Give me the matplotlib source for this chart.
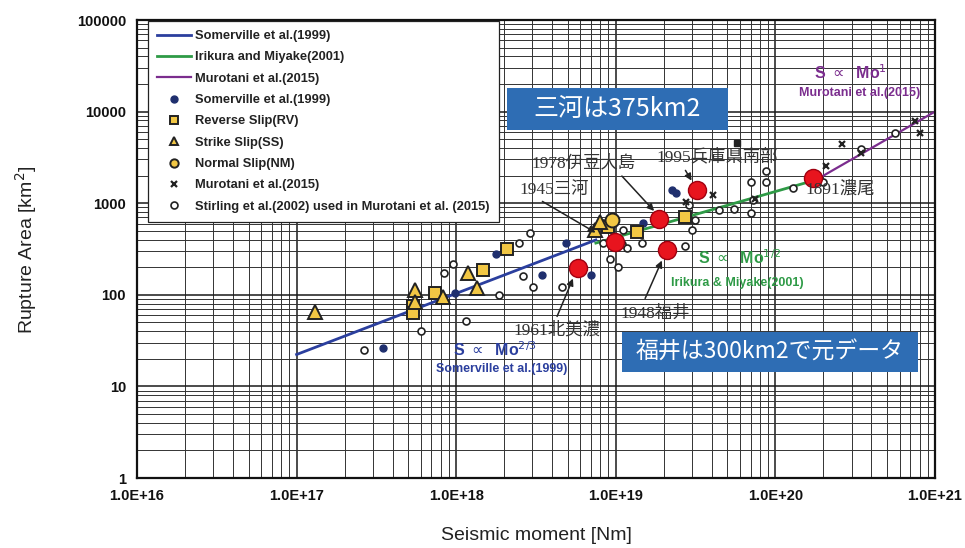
import matplotlib
matplotlib.use("Agg")
import matplotlib.pyplot as plt
from matplotlib.patches import Rectangle
from matplotlib.ticker import LogLocator, NullFormatter

plt.rcParams['font.family'] = ['Liberation Sans', 'Noto Sans CJK JP', 'DejaVu Sans']

# ---------------- data ----------------
somerville_line_x = [1.0e17, 7.5e18]
somerville_line_y = [22.3, 397]
irikura_line_x = [7.5e18, 1.8e20]
irikura_line_y = [367, 1800]
murotani_line_x = [1.8e20, 1.0e21]
murotani_line_y = [1800, 10000]

somerville_pts_x = [3.5e17, 9.8e17, 1.78e18, 3.45e18, 4.88e18, 7.0e18, 1.48e19, 2.38e19, 2.25e19]
somerville_pts_y = [26, 105, 279, 164, 368, 164, 608, 1292, 1394]

rv_x = [5.4e17, 5.4e17, 7.4e17, 1.47e18, 2.08e18, 9.0e18, 1.36e19, 2.72e19]
rv_y = [75, 63, 105, 187, 316, 550, 485, 707]

ss_x = [1.30e17, 5.5e17, 5.5e17, 8.3e17, 1.19e18, 1.35e18, 7.4e18, 7.96e18]
ss_y = [65, 113, 84, 95, 173, 119, 510, 623]

nm_x = [9.5e18]
nm_y = [656]

murotani_pts_x = [2.75e19, 4.06e19, 7.45e19, 2.08e20, 2.61e20, 3.44e20, 7.5e20, 8.05e20]
murotani_pts_y = [1031, 1230, 1111, 2547, 4430, 3534, 7890, 5840]

stirling_x = [2.64e17, 6.0e17, 1.15e18, 8.4e17, 9.6e17, 1.85e18, 2.47e18, 2.9e18, 2.62e18,
              3.03e18, 4.6e18, 8.3e18, 1.11e19, 8.3e18, 1.09e19, 1.18e19, 9.2e18, 1.03e19,
              1.45e19, 2.87e19, 3.13e19, 3.0e19, 2.72e19, 4.43e19, 5.5e19, 7.03e19, 7.03e19,
              8.73e19, 8.73e19, 7.24e19, 1.29e20, 1.99e20, 3.44e20, 5.61e20]
stirling_y = [25, 40, 52, 173, 217, 100, 368, 473, 160,
              122, 122, 608, 510, 368, 360, 324, 246, 201,
              368, 956, 656, 510, 341, 843, 861, 782, 1703,
              2248, 1703, 1084, 1466, 1703, 3906, 5840]

other_x = [5.74e19]
other_y = [4540]

quake_names = ['1961北美濃', '1945三河', '1978伊豆大島', '1948福井', '1995兵庫県南部', '1891濃尾']
quake_mo = [5.8e18, 9.9e18, 1.87e19, 2.1e19, 3.23e19, 1.72e20]
quake_area = [196, 380, 672, 305, 1394, 1884]

x_tick_vals = [1e16, 1e17, 1e18, 1e19, 1e20, 1e21]
x_tick_labels = ['1.0E+16', '1.0E+17', '1.0E+18', '1.0E+19', '1.0E+20', '1.0E+21']
y_tick_vals = [1, 10, 100, 1000, 10000, 100000]
y_tick_labels = ['1', '10', '100', '1000', '10000', '100000']

# ---------------- layout helpers ----------------
W, H = 965, 548
L, R, T, B = 137, 935, 20, 478

def af(px, py):
    return ((px - L) / (R - L), (B - py) / (B - T))

fig = plt.figure(figsize=(W / 100, H / 100), dpi=100)
fig.patch.set_facecolor('white')
ax = fig.add_axes([L / W, (H - B) / H, (R - L) / W, (B - T) / H])
ax.set_xscale('log')
ax.set_yscale('log')
ax.set_xlim(1e16, 1e21)
ax.set_ylim(1, 1e5)

ax.xaxis.set_minor_locator(LogLocator(base=10, subs=range(2, 10), numticks=50))
ax.yaxis.set_minor_locator(LogLocator(base=10, subs=range(2, 10), numticks=50))
ax.xaxis.set_minor_formatter(NullFormatter())
ax.yaxis.set_minor_formatter(NullFormatter())
ax.set_xticks(x_tick_vals)
ax.set_xticklabels(x_tick_labels)
ax.set_yticks(y_tick_vals)
ax.set_yticklabels(y_tick_labels)
ax.grid(True, which='major', color='#1a1a1a', lw=1.1, zorder=0)
ax.grid(True, which='minor', color='#333333', lw=0.7, zorder=0)
ax.set_axisbelow(True)
ax.tick_params(which='both', length=0, pad=8, labelsize=10.5, labelcolor='#111')
for lab in ax.get_xticklabels() + ax.get_yticklabels():
    lab.set_fontweight('bold')
for s in ax.spines.values():
    s.set_linewidth(1.6)
    s.set_color('#111')

# ---------------- lines ----------------
ax.plot(somerville_line_x, somerville_line_y, color='#2b3f9e', lw=2.0, zorder=2,
        label='Somerville et al.(1999)')
ax.plot(irikura_line_x, irikura_line_y, color='#2e9a46', lw=2.0, zorder=2,
        label='Irikura and Miyake(2001)')
ax.plot(murotani_line_x, murotani_line_y, color='#7b2d8e', lw=1.6, zorder=2,
        label='Murotani et al.(2015)')

# ---------------- points ----------------
ax.plot(somerville_pts_x, somerville_pts_y, 'o', color='#1f2f6e', ms=5, mec='#1f2f6e',
        zorder=3, label='Somerville et al.(1999)')
ax.plot(rv_x, rv_y, 's', color='#f2c744', mec='#222', mew=1.4, ms=9, zorder=4,
        label='Reverse Slip(RV)')
ax.plot(ss_x, ss_y, '^', color='#f2c744', mec='#222', mew=1.4, ms=10, zorder=4,
        label='Strike Slip(SS)')
ax.plot(nm_x, nm_y, 'o', color='#f2c744', mec='#222', mew=1.4, ms=10, zorder=4,
        label='Normal Slip(NM)')
ax.plot(murotani_pts_x, murotani_pts_y, 'x', color='#222', mew=1.6, ms=5, zorder=4,
        label='Murotani et al.(2015)')
ax.plot(stirling_x, stirling_y, 'o', mfc='white', mec='#222', mew=1.2, ms=5, zorder=3,
        label='Stirling et al.(2002) used in Murotani et al. (2015)')
ax.plot(other_x, other_y, 's', color='#222', ms=4, zorder=3)

ax.plot(quake_mo, quake_area, 'o', color='#e8141e', mec='#a00010', mew=1.0, ms=13, zorder=5)

# ---------------- legend ----------------
leg = ax.legend(loc='upper left', bbox_to_anchor=af(148, 21), fontsize=9.3,
                frameon=True, fancybox=False, edgecolor='#222', framealpha=1,
                borderpad=0.7, labelspacing=0.72, handlelength=2.6, handletextpad=0.35,
                borderaxespad=0)
leg.get_frame().set_linewidth(0.9)
for h in leg.legend_handles:
    if hasattr(h, 'set_markersize') and h.get_marker() not in ('None', None, ''):
        h.set_markersize(min(h.get_markersize(), 6))
for t in leg.get_texts():
    t.set_fontweight('bold')
    t.set_color('#222')
leg.set_zorder(6)

# ---------------- quake annotations ----------------
lab_family = ['Liberation Serif', 'Noto Sans CJK JP']
ann = [
    # text center px, arrow start px, arrow end px
    ('1961北美濃', (557, 330), (556, 319), (574, 276)),
    ('1945三河', (554, 190), (540, 200), (598, 234)),
    ('1978伊豆大島', (584, 163), (620, 174), (656, 213)),
    ('1948福井', (655, 314), (644, 301), (663, 258)),
    ('1995兵庫県南部', (717, 157), (684, 168), (693, 183)),
]
for name, tc, a0, a1 in ann:
    ax.text(*af(*tc), name, transform=ax.transAxes, ha='center', va='center',
            fontsize=12.5, color='#333', family=lab_family, zorder=7)
    ax.annotate('', xy=af(*a1), xycoords='axes fraction', xytext=af(*a0),
                textcoords='axes fraction',
                arrowprops=dict(arrowstyle='-|>', color='#222', lw=1.1, mutation_scale=10),
                zorder=7)
ax.text(*af(840, 190), quake_names[5], transform=ax.transAxes, ha='center', va='center',
        fontsize=12.5, color='#333', family=lab_family, zorder=7)

# ---------------- scaling law labels ----------------
ax.text(*af(495, 350), r'S $\propto$  Mo$^{2/3}$', transform=ax.transAxes, ha='center',
        va='center', fontsize=11.5, color='#2b3f9e', fontweight='bold', zorder=7)
ax.text(*af(502, 369), 'Somerville et al.(1999)', transform=ax.transAxes, ha='center',
        va='center', fontsize=9, color='#2b3f9e', fontweight='bold', zorder=7)
ax.text(*af(740, 258), r'S $\propto$  Mo$^{1/2}$', transform=ax.transAxes, ha='center',
        va='center', fontsize=11.5, color='#2e9a46', fontweight='bold', zorder=7)
ax.text(*af(737, 283), 'Irikura & Miyake(2001)', transform=ax.transAxes, ha='center',
        va='center', fontsize=9, color='#2e9a46', fontweight='bold', zorder=7)
ax.text(*af(850, 73), r'S $\propto$  Mo$^{1}$', transform=ax.transAxes, ha='center',
        va='center', fontsize=11.5, color='#7b2d8e', fontweight='bold', zorder=7)
ax.text(*af(860, 93), 'Murotani et al.(2015)', transform=ax.transAxes, ha='center',
        va='center', fontsize=9, color='#7b2d8e', fontweight='bold', zorder=7)

# ---------------- axis labels ----------------
fig.text(536 / W, 1 - 535 / H, 'Seismic moment [Nm]', ha='center', va='center',
         fontsize=14, color='#222')
fig.text(26 / W, 1 - 250 / H, 'Rupture Area [km$^2$]', ha='center', va='center',
         rotation=90, fontsize=14, color='#222')

# ---------------- blue callout boxes ----------------
def callout(x0, y0, x1, y1, text, fs):
    fig.add_artist(Rectangle((x0 / W, 1 - y1 / H), (x1 - x0) / W, (y1 - y0) / H,
                             transform=fig.transFigure, facecolor='#2e6db4',
                             edgecolor='none', zorder=10))
    fig.text((x0 + x1) / 2 / W, 1 - (y0 + y1) / 2 / H, text, ha='center', va='center',
             fontsize=fs, color='white', family=['Noto Sans CJK JP'], zorder=11)

callout(507, 88, 728, 130, '三河は375km2', 18)
callout(622, 332, 918, 372, '福井は300km2で元データ', 16.5)

fig.savefig('out.png', dpi=100, facecolor='white')
